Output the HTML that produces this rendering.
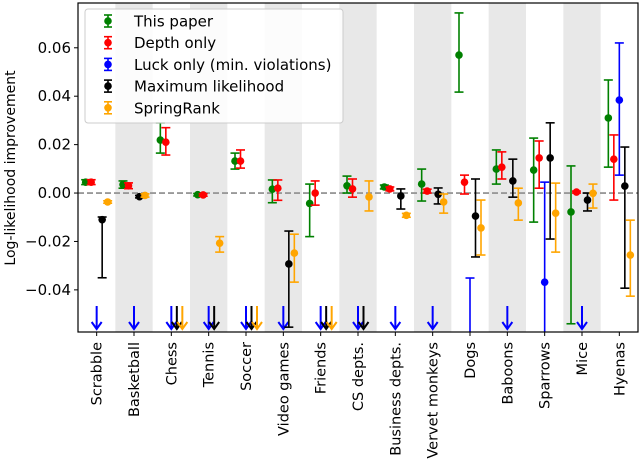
<!DOCTYPE html>
<html><head><meta charset="utf-8"><style>
html,body{margin:0;padding:0;background:#fff}
svg text{font-family:"DejaVu Sans","Liberation Sans",sans-serif;fill:#000}
</style></head><body>
<svg id="chart" width="640" height="466" viewBox="0 0 640 466" xmlns="http://www.w3.org/2000/svg">
<g id="bands"></g>
<line id="zero" stroke="#999" stroke-width="1.8" stroke-dasharray="6,3"></line>
<g id="marks"></g>
<g id="axes"></g>
<g id="legend"></g>
</svg>
<script>
const categories = ["Scrabble","Basketball","Chess","Tennis","Soccer","Video games","Friends","CS depts.","Business depts.","Vervet monkeys","Dogs","Baboons","Sparrows","Mice","Hyenas"];
const seriesNames = ["This paper","Depth only","Luck only (min. violations)","Maximum likelihood","SpringRank"];
const seriesColors = ["#008000","#ff0000","#0000ff","#000000","#ffa500"];
// -0.1 means off-chart (drawn as down arrow)
const greenVal = [0.0045,0.0035,0.0219,-0.0007,0.0132,0.0016,-0.0043,0.003,0.0025,0.0037,0.057,0.0099,0.0095,-0.0078,0.031];
const greenLo  = [0.0035,0.002,0.0165,-0.0012,0.0099,-0.004,-0.018,0.0,0.0017,-0.0033,0.0417,0.0037,-0.012,-0.054,0.0107];
const greenHi  = [0.0055,0.005,0.029,-0.0002,0.0165,0.0054,0.0037,0.007,0.0033,0.0099,0.0744,0.0178,0.0227,0.0112,0.0467];
const redVal = [0.0045,0.003,0.021,-0.0008,0.0132,0.002,0.0,0.0017,0.0017,0.0008,0.0045,0.0107,0.0145,0.0004,0.014];
const redLo  = [0.0035,0.0018,0.0157,-0.0013,0.0103,-0.003,-0.005,-0.0017,0.0009,0.0,-0.0004,0.0058,0.002,0.0,-0.0029];
const redHi  = [0.0055,0.0042,0.027,-0.0003,0.0178,0.0054,0.005,0.0058,0.0025,0.0016,0.0074,0.017,0.0215,0.0008,0.024];
const blueVal = [-0.1,-0.1,-0.1,-0.1,-0.1,-0.1,-0.1,-0.1,-0.1,-0.1,-0.08,-0.1,-0.0368,-0.1,0.0384];
const blueLo  = [-0.1,-0.1,-0.1,-0.1,-0.1,-0.1,-0.1,-0.1,-0.1,-0.1,-0.12,-0.1,-0.08,-0.1,0.0074];
const blueHi  = [-0.1,-0.1,-0.1,-0.1,-0.1,-0.1,-0.1,-0.1,-0.1,-0.1,-0.0351,-0.1,0.0045,-0.1,0.062];
const blackVal = [-0.011,-0.0015,-0.1,-0.1,-0.1,-0.0293,-0.1,-0.1,-0.0012,-0.0005,-0.0095,0.005,0.0145,-0.0029,0.0029];
const blackLo  = [-0.035,-0.002,-0.1,-0.1,-0.1,-0.0554,-0.1,-0.1,-0.0066,-0.0045,-0.0264,-0.0017,-0.019,-0.0074,-0.0393];
const blackHi  = [-0.0099,-0.001,-0.1,-0.1,-0.1,-0.0157,-0.1,-0.1,0.0017,0.0021,0.0058,0.014,0.029,0.0,0.019];
const orangeVal = [-0.0037,-0.001,-0.1,-0.0207,-0.1,-0.0248,-0.1,-0.0016,-0.0092,-0.0037,-0.0144,-0.0041,-0.0083,-0.0001,-0.0256];
const orangeLo  = [-0.0042,-0.0017,-0.1,-0.0244,-0.1,-0.0368,-0.1,-0.0074,-0.01,-0.0083,-0.0256,-0.0112,-0.0244,-0.0062,-0.0426];
const orangeHi  = [-0.0032,-0.0003,-0.1,-0.018,-0.1,-0.017,-0.1,0.005,-0.0084,-0.0004,-0.0029,0.002,0.0041,0.0037,-0.0112];
const yTicks = [0.06,0.04,0.02,0.00,-0.02,-0.04];
const yTickLabels = ["0.06","0.04","0.02","0.00","\u22120.02","\u22120.04"];

const NS="http://www.w3.org/2000/svg";
const L=78,R=638,T=3,B=332,yMin=-0.0574,yMax=0.0785;
const band=(R-L)/categories.length;
function xc(i){return L+band*(i+0.5);}
function ys(v){return B-(v-yMin)/(yMax-yMin)*(B-T);}
function mk(tag,attrs,parent){const e=document.createElementNS(NS,tag);for(const k in attrs)e.setAttribute(k,attrs[k]);parent.appendChild(e);return e;}
const bands=document.getElementById('bands'),marks=document.getElementById('marks'),axes=document.getElementById('axes'),legend=document.getElementById('legend');
categories.forEach((c,i)=>{if(i%2===1){const r=mk('rect',{x:xc(i)-band/2,y:T,width:band,height:B-T,fill:'#e8e8e8'},bands);

}});
const z=document.getElementById('zero');z.setAttribute('x1',L);z.setAttribute('x2',R);z.setAttribute('y1',ys(0));z.setAttribute('y2',ys(0));
const vals=[greenVal,redVal,blueVal,blackVal,orangeVal],los=[greenLo,redLo,blueLo,blackLo,orangeLo],his=[greenHi,redHi,blueHi,blackHi,orangeHi];
const offs=[-11,-5.5,0,5.5,11];
const cp=document.createElementNS(NS,'clipPath');cp.setAttribute('id','clip');mk('rect',{x:L,y:T,width:R-L,height:B-T},cp);document.getElementById('chart').appendChild(cp);
marks.setAttribute('clip-path','url(#clip)');
for(let s=0;s<5;s++){const col=seriesColors[s];
 categories.forEach((c,i)=>{const x=xc(i)+offs[s];const v=vals[s][i],lo=los[s][i],hi=his[s][i];
  const g=mk('g',{},marks);
  
  
  if(hi<yMin){
   const x2=x;mk('line',{x1:x2,y1:306,x2:x2,y2:329,stroke:col,'stroke-width':2},g);
   mk('path',{d:`M${x2-5},${322} L${x2},${329} L${x2+5},${322}`,fill:'none',stroke:col,'stroke-width':2},g);
   return;}
  mk('line',{x1:x,y1:ys(hi),x2:x,y2:ys(lo),stroke:col,'stroke-width':1.6},g);
  mk('line',{x1:x-4.5,y1:ys(hi),x2:x+4.5,y2:ys(hi),stroke:col,'stroke-width':1.6},g);
  mk('line',{x1:x-4.5,y1:ys(lo),x2:x+4.5,y2:ys(lo),stroke:col,'stroke-width':1.6},g);
  mk('circle',{cx:x,cy:ys(v),r:3.8,fill:col},g);
 });}
const frame=mk('rect',{x:L,y:T,width:R-L,height:B-T,fill:'none',stroke:'#000','stroke-width':1.2},axes);


yTicks.forEach((t,k)=>{const y=ys(t);mk('line',{x1:L-4,y1:y,x2:L,y2:y,stroke:'#000','stroke-width':1},axes);
 const tx=mk('text',{x:L-7,y:y+5,'text-anchor':'end','font-size':15},axes);tx.textContent=yTickLabels[k];
 
 });
categories.forEach((c,i)=>{const x=xc(i);mk('line',{x1:x,y1:B,x2:x,y2:B+4,stroke:'#000','stroke-width':1},axes);
 const tx=mk('text',{transform:`translate(${x+5},342) rotate(-90)`,'text-anchor':'end','font-size':14.5},axes);tx.textContent=c;
 
 });
const yl=mk('text',{transform:'translate(15,168) rotate(-90)','text-anchor':'middle','font-size':14},axes);yl.textContent='Log-likelihood improvement';


mk('rect',{x:85,y:9,width:258,height:114,rx:3,fill:'#fff','fill-opacity':0.85,stroke:'#ccc','stroke-width':1},legend);
seriesNames.forEach((n,s)=>{const y=21+s*21.7,col=seriesColors[s];const g=mk('g',{},legend);
 
 
 mk('line',{x1:108,y1:y-6,x2:108,y2:y+6,stroke:col,'stroke-width':1.6},g);
 mk('line',{x1:104,y1:y-6,x2:112,y2:y-6,stroke:col,'stroke-width':1.6},g);
 mk('line',{x1:104,y1:y+6,x2:112,y2:y+6,stroke:col,'stroke-width':1.6},g);
 mk('circle',{cx:108,cy:y,r:3.8,fill:col},g);
 const t=mk('text',{x:134,y:y+5.5,'font-size':15},g);t.textContent=n;});
</script>
</body></html>
